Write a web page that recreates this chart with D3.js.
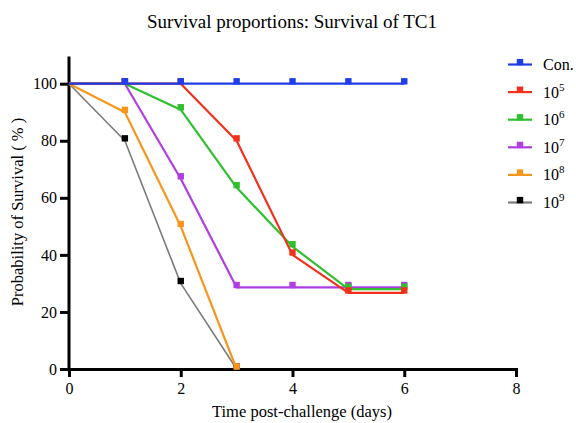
<!DOCTYPE html>
<html>
<head>
<meta charset="utf-8">
<script src="https://cdn.jsdelivr.net/npm/d3@7"></script>
<style>
  body { margin: 0; background: #fff; }
  svg text { font-family: "Liberation Serif", "DejaVu Serif", serif; fill: #000; }
</style>
</head>
<body>
<script>
// data
var days = [0, 1, 2, 3, 4, 5, 6];
var con  = [100, 100, 100, 100, 100, 100, 100];
var e5   = [100, 100, 100, 80, 40, 26.7, 26.7];
var e6   = [100, 100, 90.9, 63.6, 42.9, 28, 28];
var e7   = [100, 100, 66.7, 28.6, 28.6, 28.6, 28.6];
var e8   = [100, 90, 50, 0];
var e9   = [100, 80, 30, 0];
var xTicks = [0, 2, 4, 6, 8];
var yTicks = [0, 20, 40, 60, 80, 100];

var groups = [
    { name: "Con.", exp: null, values: con, line: "#1f3de8", mark: "#1f3de8", w: 2.2 },
    { name: "10", exp: "5", values: e5, line: "#f2311c", mark: "#f2311c", w: 2.2 },
    { name: "10", exp: "6", values: e6, line: "#2fbf2f", mark: "#2fbf2f", w: 2.2 },
    { name: "10", exp: "7", values: e7, line: "#b03ee0", mark: "#b03ee0", w: 2.2 },
    { name: "10", exp: "8", values: e8, line: "#f7961e", mark: "#f7961e", w: 2.2 },
    { name: "10", exp: "9", values: e9, line: "#7b7b7b", mark: "#000000", w: 1.6 }
];

var W = 576, H = 423;
var svg = d3.select("body").append("svg").attr("width", W).attr("height", H);

var x = d3.scaleLinear().domain([0, 8]).range([69, 516]);
var y = d3.scaleLinear().domain([0, 100]).range([369, 83.7]);

// axes
var xAxis = svg.append("g").attr("transform", "translate(0," + y(0) + ")")
    .call(d3.axisBottom(x).tickValues(xTicks).tickFormat(d3.format("d")).tickSizeOuter(0).tickSize(8).tickPadding(6));
var yAxis = svg.append("g").attr("transform", "translate(" + x(0) + ",0)")
    .call(d3.axisLeft(y).tickValues(yTicks).tickSizeOuter(0).tickSize(9).tickPadding(3));
// y axis runs a bit past 100
yAxis.select(".domain").attr("d", "M0," + y(0) + "V" + y(109.5));

[xAxis, yAxis].forEach(function(a) {
    a.attr("font-family", "Liberation Serif").attr("font-size", 16);
    a.select(".domain").attr("stroke", "#000").attr("stroke-width", 3);
    a.selectAll(".tick line").attr("stroke", "#000").attr("stroke-width", 3);
    a.selectAll(".tick text").attr("fill", "#000");
});

// curves, control drawn last so it sits on top
var line = d3.line().x(function(d) { return x(d[0]); }).y(function(d) { return y(d[1]); });

groups.slice().reverse().forEach(function(g) {
    var pts = g.values.map(function(v, i) { return [days[i], v]; });
    svg.append("path").datum(pts)
        .attr("d", line)
        .attr("fill", "none")
        .attr("stroke", g.line)
        .attr("stroke-width", g.w)
        .attr("stroke-linejoin", "round");
    svg.selectAll(null).data(pts.slice(1)).enter().append("rect")
        .attr("x", function(d) { return x(d[0]) - 3.2; })
        .attr("y", function(d) { return y(d[1]) - 5.6; })
        .attr("width", 6.4).attr("height", 6.4)
        .attr("fill", g.mark);
});

// title
svg.append("text").attr("x", 292).attr("y", 28).attr("text-anchor", "middle")
    .style("font-size", "19px").text("Survival proportions: Survival of TC1");

// axis titles
svg.append("text").attr("x", 302).attr("y", 417).attr("text-anchor", "middle")
    .style("font-size", "16.5px").text("Time post-challenge (days)");
svg.append("text").attr("transform", "translate(23,212) rotate(-90)").attr("text-anchor", "middle")
    .style("font-size", "16.5px").text("Probability of Survival ( % )");

// legend
var leg = svg.selectAll(".leg").data(groups).enter().append("g")
    .attr("class", "leg")
    .attr("transform", function(d, i) { return "translate(508," + (64.5 + i * 27.6) + ")"; });
leg.append("line").attr("x1", 0).attr("x2", 24).attr("stroke", function(d) { return d.line; }).attr("stroke-width", 2.2);
leg.append("rect").attr("x", 8.8).attr("y", -5.6).attr("width", 6.4).attr("height", 6.4).attr("fill", function(d) { return d.mark; });
var lt = leg.append("text").attr("x", 35).attr("y", 5.5).style("font-size", "16px");
lt.append("tspan").text(function(d) { return d.name; });
lt.append("tspan").attr("dy", -7).style("font-size", "11px").text(function(d) { return d.exp || ""; });
</script>
</body>
</html>
